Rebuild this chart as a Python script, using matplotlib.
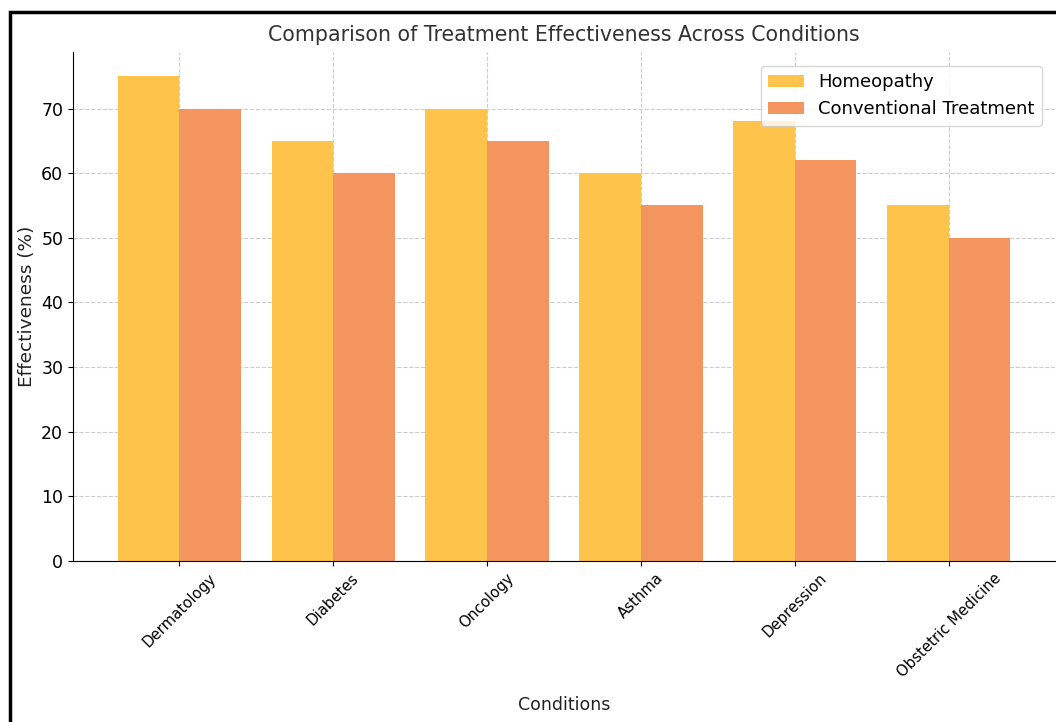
import matplotlib.pyplot as plt
import matplotlib.patches as mpatches
import numpy as np

conditions = ["Dermatology", "Diabetes", "Oncology", "Asthma", "Depression", "Obstetric Medicine"]
homeopathy = [75, 65, 70, 60, 68, 55]
conventional = [70, 60, 65, 55, 62, 50]

fig = plt.figure(figsize=(10.56, 7.22), dpi=100)
ax = fig.add_axes([0.0691, 0.223, 0.93, 0.705])

x = np.arange(len(conditions))
w = 0.4
ax.bar(x - w / 2, homeopathy, w, color="#fdc34a", label="Homeopathy", zorder=2)
ax.bar(x + w / 2, conventional, w, color="#f4955f", label="Conventional Treatment", zorder=2)

ax.set_xticks(x)
ax.set_xticklabels(conditions, rotation=45, fontsize=10.7)
ax.tick_params(axis="y", labelsize=12.5)
ax.set_ylim(0, 78.75)
ax.set_xlim(-0.69, 5.69)
ax.set_title("Comparison of Treatment Effectiveness Across Conditions", fontsize=14.8, color="#333333", pad=8)
ax.set_xlabel("Conditions", fontsize=12.5, color="#222222", labelpad=11)
ax.set_ylabel("Effectiveness (%)", fontsize=13.3, color="#222222")
ax.grid(True, linestyle="--", color="#cccccc", linewidth=0.8, zorder=0)
ax.spines["top"].set_visible(False)
ax.spines["right"].set_visible(False)
ax.legend(loc="upper right", fontsize=13, bbox_to_anchor=(0.996, 0.99))

# black frame from the screenshot
fig.patches.append(mpatches.Rectangle((10 / 1056, -0.1), 1.2, 1 - 12 / 722 + 0.1,
                                      transform=fig.transFigure, fill=False,
                                      edgecolor="black", linewidth=2.5))

fig.savefig("out.png", dpi=100)
